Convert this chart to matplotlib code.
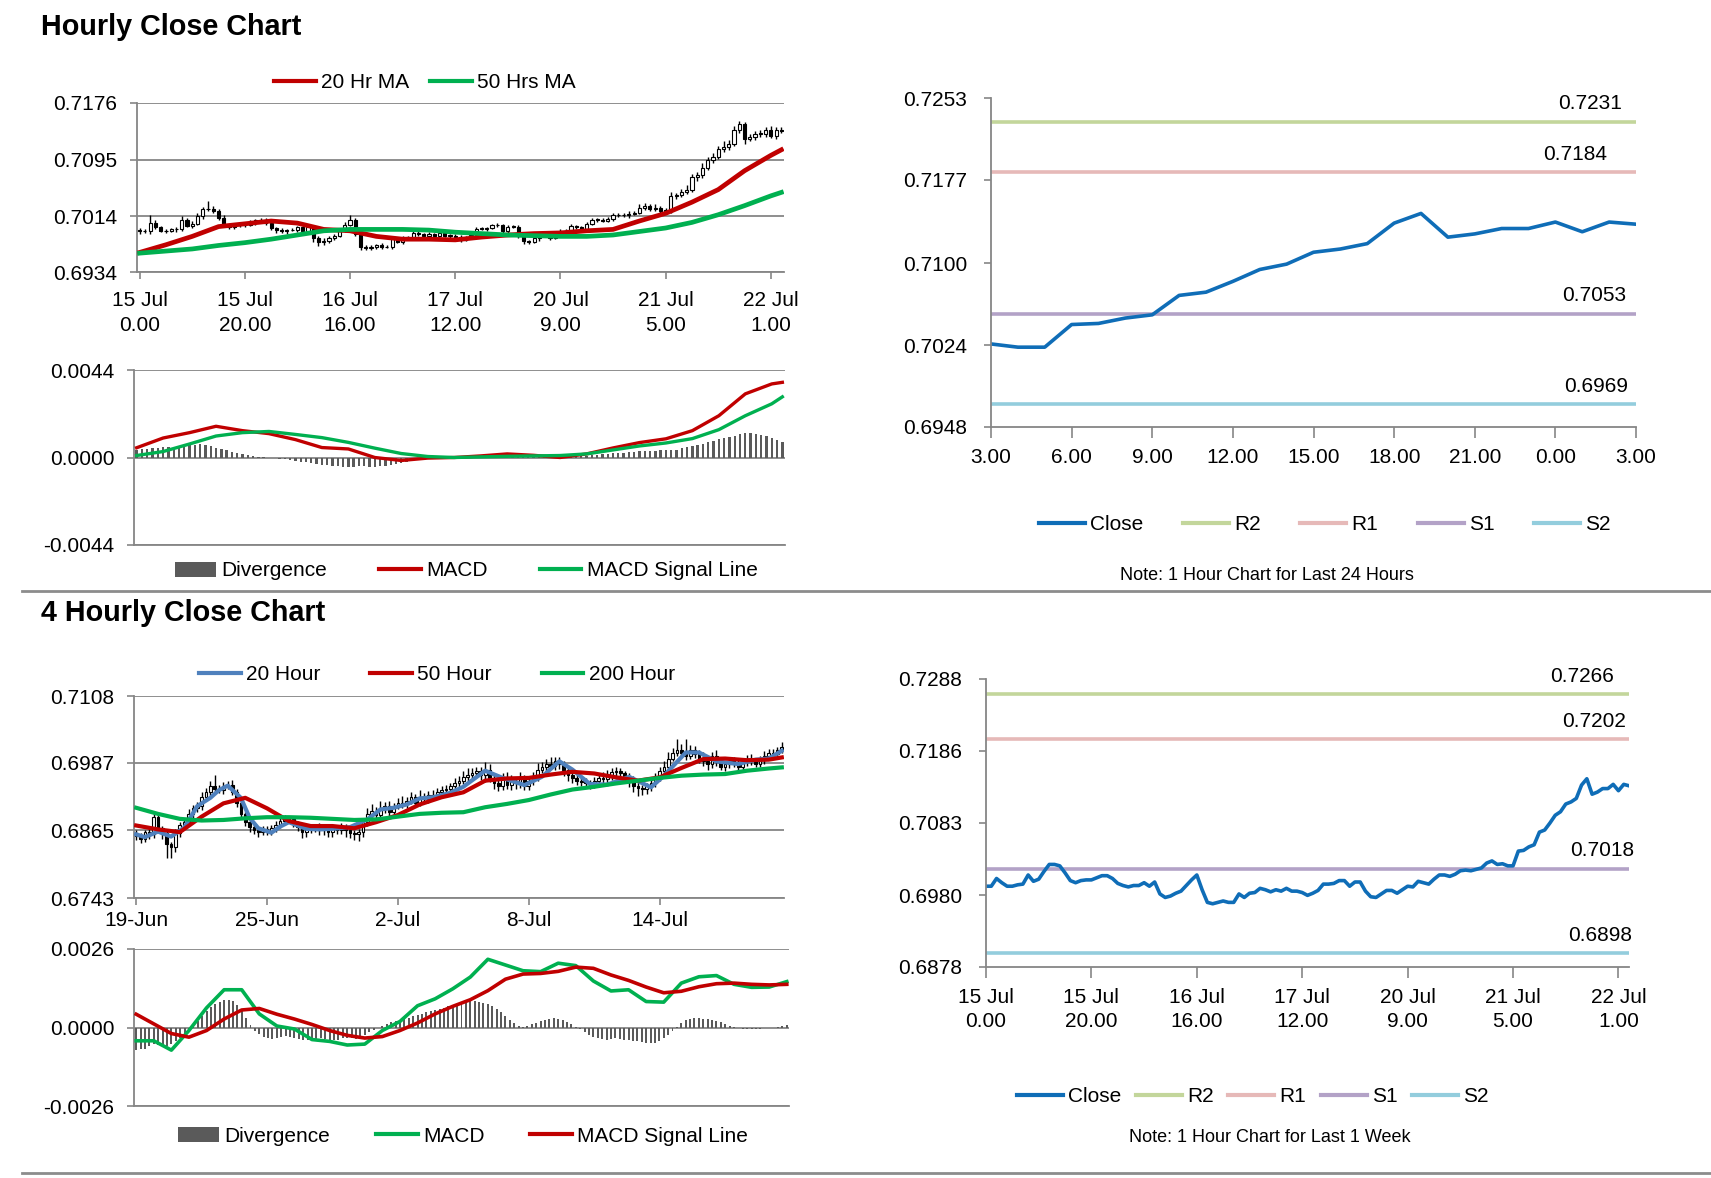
import matplotlib
matplotlib.use("Agg")
import matplotlib.pyplot as plt
from matplotlib.patches import Rectangle, Patch
from matplotlib.lines import Line2D

plt.rcParams['font.family'] = ['Liberation Sans Narrow', 'Liberation Sans', 'DejaVu Sans']

# ---------------- data: hourly (15 Jul 0.00 - 22 Jul 3.00) ----------------
hourly_ticks = [0, 20, 40, 60, 80, 100, 120]
hourly_tick_labels = ['15 Jul\n0.00', '15 Jul\n20.00', '16 Jul\n16.00', '17 Jul\n12.00',
                      '20 Jul\n9.00', '21 Jul\n5.00', '22 Jul\n1.00']
hourly_close = [
    0.6993, 0.6993, 0.7004, 0.6998, 0.6993, 0.6993, 0.6995, 0.6996, 0.7009, 0.7000,
    0.7003, 0.7014, 0.7024, 0.7024, 0.7022, 0.7012, 0.7001, 0.6998, 0.7001, 0.7002,
    0.7002, 0.7005, 0.7008, 0.7008, 0.7004, 0.6997, 0.6994, 0.6992, 0.6994, 0.6994,
    0.6998, 0.6993, 0.6999, 0.6982, 0.6977, 0.6979, 0.6983, 0.6986, 0.6994, 0.7002,
    0.7009, 0.6988, 0.6970, 0.6968, 0.6970, 0.6972, 0.6970, 0.6970, 0.6982, 0.6977,
    0.6983, 0.6984, 0.6990, 0.6988, 0.6985, 0.6988, 0.6986, 0.6990, 0.6986, 0.6986,
    0.6984, 0.6980, 0.6983, 0.6987, 0.6996, 0.6996, 0.6997, 0.7001, 0.7001, 0.6993,
    0.6999, 0.6999, 0.6986, 0.6978, 0.6977, 0.6982, 0.6987, 0.6987, 0.6983, 0.6988,
    0.6993, 0.6992, 0.7000, 0.6998, 0.6996, 0.7003, 0.7009, 0.7009, 0.7007, 0.7010,
    0.7015, 0.7016, 0.7015, 0.7017, 0.7019, 0.7026, 0.7029, 0.7024,
    0.7025, 0.7022, 0.7022, 0.7043, 0.7044, 0.7049, 0.7052, 0.7070, 0.7073, 0.7083,
    0.7094, 0.7099, 0.7110, 0.7113, 0.7118, 0.7137, 0.7146, 0.7124, 0.7127, 0.7132,
    0.7132, 0.7138, 0.7129, 0.7138, 0.7136]
hourly_first_open = 0.6994
# wick lengths in pips above / below the candle body
hourly_wick_up = [3, 2, 12, 4, 2, 3, 2, 3, 5, 3, 4, 5, 3, 12, 4, 2, 3, 2, 2, 3,
                  2, 3, 2, 4, 3, 2, 2, 3, 2, 3, 2, 3, 2, 2, 4, 3, 3, 2, 3, 4,
                  6, 2, 3, 2, 2, 2, 3, 2, 4, 2, 3, 2, 2, 3, 2, 3, 2, 2, 3, 2,
                  2, 3, 2, 3, 2, 3, 2, 2, 3, 2, 3, 2, 3, 2, 2, 3, 2, 2, 3, 2,
                  3, 2, 3, 2, 2, 3, 2, 3, 2, 3, 3, 2, 3, 4, 3, 5, 4, 3, 6, 4,
                  3, 5, 3, 4, 6, 5, 4, 7, 5, 6, 4, 8, 5, 6, 4, 3, 5, 4, 6, 4,
                  5, 4, 3]
hourly_wick_dn = [4, 3, 5, 3, 2, 3, 2, 4, 3, 2, 3, 2, 4, 2, 3, 3, 3, 2, 2, 3,
                  3, 2, 3, 2, 3, 3, 4, 2, 3, 2, 3, 2, 4, 5, 6, 5, 3, 3, 2, 3,
                  2, 3, 4, 3, 2, 3, 3, 2, 3, 2, 3, 2, 3, 2, 3, 2, 3, 2, 2, 3,
                  2, 3, 2, 2, 3, 2, 3, 2, 3, 3, 3, 2, 3, 4, 3, 2, 3, 2, 3, 2,
                  2, 3, 2, 2, 3, 2, 2, 3, 2, 2, 3, 2, 2, 3, 2, 2, 3, 2, 2, 4,
                  5, 3, 4, 3, 4, 3, 5, 4, 3, 4, 3, 4, 5, 3, 4, 6, 3, 4, 5, 4,
                  3, 4, 3]
hourly_line_idx = [0, 5, 10, 15, 20, 25, 30, 35, 40, 45, 50, 55, 60, 65, 70, 75, 80,
                   85, 90, 95, 100, 105, 110, 115, 120, 122]
hourly_ma20 = [0.6962, 0.6973, 0.6985, 0.6999, 0.7003, 0.7007, 0.7004, 0.6995, 0.6993,
               0.6985, 0.6981, 0.6981, 0.6980, 0.6984, 0.6987, 0.6989, 0.6990, 0.6993,
               0.6995, 0.7007, 0.7018, 0.7034, 0.7052, 0.7079, 0.7101, 0.7109]
hourly_ma50 = [0.6961, 0.6964, 0.6967, 0.6972, 0.6976, 0.6981, 0.6987, 0.6993, 0.6995,
               0.6995, 0.6995, 0.6994, 0.6991, 0.6989, 0.6987, 0.6986, 0.6985, 0.6985,
               0.6987, 0.6992, 0.6997, 0.7005, 0.7016, 0.7029, 0.7043, 0.7048]
hourly_macd = [0.00049, 0.00098, 0.00125, 0.00157, 0.00135, 0.00120, 0.00090, 0.00050,
               0.00043, 0.00000, -0.00015, -0.00003, 0.00000, 0.00008, 0.00018, 0.00011,
               0.00000, 0.00018, 0.00048, 0.00075, 0.00094, 0.00135, 0.00210, 0.00320,
               0.00370, 0.00378]
hourly_signal = [0.00010, 0.00030, 0.00068, 0.00108, 0.00125, 0.00131, 0.00116, 0.00100,
                 0.00076, 0.00047, 0.00020, 0.00005, 0.00000, 0.00003, 0.00006, 0.00008,
                 0.00010, 0.00018, 0.00038, 0.00058, 0.00073, 0.00095, 0.00140, 0.00210,
                 0.00270, 0.00305]
# divergence in units of 0.00001
hourly_div = [40, 42, 45, 47, 50, 52, 53, 55, 57, 60, 62, 65, 67,
              64, 58, 50, 45, 38, 30, 23, 18, 12, 8, 5, 2, 0,
              -3, -6, -10, -14, -18, -22, -25, -28, -32, -36, -40, -42, -45,
              -47, -47, -46, -45, -44, -46, -47, -45, -42, -38, -33, -28, -22,
              -16, -10, -5, -2, 0, 1, 1, 2, 3, 3, 4, 4, 5,
              6, 8, 10, 11, 12, 12, 11, 10, 8, 6, 5, 3, 2,
              1, 0, 1, 2, 4, 6, 8, 10, 12, 14, 17, 19, 21,
              23, 25, 27, 29, 31, 33, 34, 35, 36, 37, 36, 40, 47,
              53, 58, 63, 70, 78, 85, 93, 100, 103, 110, 117, 123, 121,
              118, 114, 108, 98, 90, 80]

# last 24 hours (21 Jul 3.00 - 22 Jul 3.00) are the tail of the hourly closes
last24_tick_labels = ['3.00', '6.00', '9.00', '12.00', '15.00', '18.00', '21.00', '0.00', '3.00']
level_names = ['R2', 'R1', 'S1', 'S2']
day_levels = [0.7231, 0.7184, 0.7053, 0.6969]
week_levels = [0.7266, 0.7202, 0.7018, 0.6898]

# ---------------- data: 4 hourly (19 Jun - 17 Jul) ----------------
fourh_ticks = [0, 30, 60, 90, 120]
fourh_tick_labels = ['19-Jun', '25-Jun', '2-Jul', '8-Jul', '14-Jul']
fourh_close = [
    0.6855, 0.6850, 0.6862, 0.6858, 0.6890, 0.6870, 0.6860, 0.6840, 0.6835, 0.6860,
    0.6875, 0.6880, 0.6895, 0.6905, 0.6910, 0.6925, 0.6935, 0.6945, 0.6940, 0.6938,
    0.6945, 0.6948, 0.6935, 0.6915, 0.6895, 0.6880,
    0.6872, 0.6866, 0.6863, 0.6868, 0.6862, 0.6870, 0.6875, 0.6882, 0.6888,
    0.6885, 0.6878, 0.6872, 0.6862, 0.6868, 0.6870, 0.6872, 0.6866, 0.6868,
    0.6862, 0.6870, 0.6866, 0.6872, 0.6865, 0.6860, 0.6858, 0.6862, 0.6880,
    0.6895, 0.6900, 0.6893, 0.6905, 0.6910, 0.6898, 0.6908, 0.6915, 0.6912,
    0.6918, 0.6925, 0.6915, 0.6925, 0.6922, 0.6930, 0.6928, 0.6935, 0.6938,
    0.6940, 0.6945, 0.6950, 0.6955, 0.6962, 0.6965, 0.6968, 0.6972, 0.6965,
    0.6975, 0.6960, 0.6950, 0.6945, 0.6962, 0.6948, 0.6955, 0.6950, 0.6958,
    0.6945, 0.6955, 0.6962, 0.6975, 0.6980, 0.6985, 0.6982, 0.6990, 0.6985,
    0.6975, 0.6965, 0.6960, 0.6955, 0.6952, 0.6950, 0.6948, 0.6955, 0.6960,
    0.6958, 0.6965, 0.6970, 0.6972, 0.6968, 0.6962, 0.6955, 0.6945, 0.6942,
    0.6940, 0.6945, 0.6950, 0.6960, 0.6972, 0.6980, 0.6995, 0.7005, 0.7010,
    0.7005, 0.7000, 0.7010, 0.7003, 0.6995, 0.6990, 0.6985, 0.7000, 0.6990,
    0.6980, 0.6985, 0.6990, 0.6985, 0.6980, 0.6988, 0.6995, 0.6990, 0.6985,
    0.6992, 0.7000, 0.7005, 0.7003, 0.7010, 0.7015]
fourh_first_open = 0.6860
fourh_wick_up = [5, 6, 4, 8, 6, 5, 4, 6, 5, 7, 6, 5, 8, 6, 7, 9, 6, 10, 20, 8,
                 7, 6, 8, 5, 6, 4, 5, 6, 4, 5, 6, 5, 7, 6, 5, 4, 6, 5, 4, 6,
                 5, 4, 6, 5, 7, 4, 5, 6, 4, 5, 6, 5, 8, 10, 12, 8, 14, 7, 9, 6,
                 8, 12, 7, 9, 6, 14, 8, 7, 9, 6, 8, 7, 6, 9, 8, 10, 12, 9, 8, 7,
                 14, 10, 8, 9, 7, 8, 10, 6, 12, 8, 7, 9, 12, 8, 10, 12, 8, 7, 6, 5,
                 7, 6, 5, 8, 6, 7, 8, 10, 9, 8, 7, 6, 5, 6, 8, 7, 5, 6, 7, 9,
                 8, 10, 12, 9, 20, 11, 25, 9, 8, 7, 12, 8, 7, 10, 8, 6, 7, 8, 9, 6,
                 7, 8, 6, 7, 9, 8, 7, 6, 10]
fourh_wick_dn = [8, 7, 6, 9, 7, 8, 10, 24, 20, 8, 7, 6, 5, 7, 6, 8, 6, 7, 5, 6,
                 7, 5, 6, 8, 9, 7, 10, 8, 9, 7, 6, 5, 7, 6, 5, 6, 7, 8, 10, 9,
                 8, 7, 9, 10, 8, 9, 7, 8, 12, 9, 10, 12, 8, 7, 6, 7, 6, 8, 7, 6,
                 5, 7, 6, 5, 7, 6, 8, 7, 6, 5, 7, 6, 5, 6, 7, 6, 8, 7, 6, 9,
                 12, 8, 10, 9, 7, 8, 9, 10, 8, 7, 6, 7, 8, 6, 7, 6, 8, 9, 12, 10,
                 9, 8, 7, 9, 8, 7, 6, 8, 7, 9, 8, 10, 9, 12, 10, 14, 10, 9, 8, 7,
                 6, 7, 6, 5, 6, 7, 8, 6, 7, 8, 9, 10, 7, 8, 6, 7, 8, 6, 7, 8,
                 6, 7, 6, 5, 6, 7, 5, 6, 5]
fourh_ma20_idx = [0, 2, 5, 8, 11, 14, 17, 19, 21, 24, 26, 28, 31, 33, 35, 39, 42, 45, 49,
                  53, 56, 59, 62, 65, 68, 72, 75, 80, 84, 89, 93, 97, 100, 104, 108, 113,
                  118, 121, 126, 129, 133, 138, 142, 145, 148]
fourh_ma20 = [0.6858, 0.6853, 0.6863, 0.6854, 0.6870, 0.6909, 0.6924, 0.6938, 0.6946,
              0.6924, 0.6888, 0.6869, 0.6861, 0.6872, 0.6880, 0.6868, 0.6867, 0.6868,
              0.6871, 0.6885, 0.6903, 0.6906, 0.6912, 0.6923, 0.6925, 0.6933, 0.6944,
              0.6973, 0.6960, 0.6947, 0.6962, 0.6990, 0.6975, 0.6949, 0.6948, 0.6962,
              0.6943, 0.6964, 0.7006, 0.7006, 0.6990, 0.6985, 0.6993, 0.6995, 0.7009]
fourh_ma_idx = [0, 5, 10, 15, 20, 25, 30, 35, 40, 45, 50, 55, 60, 65, 70, 75, 80, 85, 90,
                95, 100, 105, 110, 115, 120, 125, 130, 135, 140, 145, 148]
fourh_ma50 = [0.6874, 0.6867, 0.6862, 0.6890, 0.6914, 0.6924, 0.6905, 0.6882, 0.6873,
              0.6873, 0.6869, 0.6880, 0.6893, 0.6912, 0.6925, 0.6934, 0.6955, 0.6959,
              0.6960, 0.6966, 0.6971, 0.6968, 0.6961, 0.6955, 0.6961, 0.6978, 0.6994,
              0.6995, 0.6992, 0.6993, 0.6997]
fourh_ma200 = [0.6906, 0.6895, 0.6886, 0.6883, 0.6884, 0.6887, 0.6889, 0.6889, 0.6888,
               0.6886, 0.6884, 0.6885, 0.6890, 0.6895, 0.6897, 0.6898, 0.6907, 0.6913,
               0.6920, 0.6930, 0.6939, 0.6944, 0.6950, 0.6955, 0.6960, 0.6964, 0.6966,
               0.6967, 0.6973, 0.6977, 0.6979]
fourh_macd_idx = list(range(0, 149, 4))
fourh_macd = [-0.00044, -0.00044, -0.00075, -0.00010, 0.00065, 0.00125, 0.00125, 0.00045,
              0.00005, -0.00005, -0.00040, -0.00046, -0.00058, -0.00055, -0.00010, 0.00020,
              0.00072, 0.00095, 0.00128, 0.00167, 0.00226, 0.00207, 0.00188, 0.00185,
              0.00213, 0.00205, 0.00154, 0.00121, 0.00125, 0.00086, 0.00084, 0.00147,
              0.00168, 0.00172, 0.00143, 0.00133, 0.00134, 0.00152]
fourh_signal = [0.00044, 0.00012, -0.00020, -0.00032, -0.00010, 0.00028, 0.00058, 0.00063,
                0.00044, 0.00028, 0.00010, -0.00010, -0.00026, -0.00035, -0.00030, -0.00010,
                0.00015, 0.00045, 0.00070, 0.00092, 0.00122, 0.00160, 0.00177, 0.00179,
                0.00186, 0.00200, 0.00196, 0.00174, 0.00156, 0.00134, 0.00115, 0.00120,
                0.00135, 0.00145, 0.00147, 0.00143, 0.00141, 0.00143]
fourh_div = [-75, -72, -70, -60, -56, -58, -62, -60, -55,
             -45, -35, -20, -8, 5, 20, 38, 55, 68,
             78, 86, 90, 91, 88, 75, 55, 30, 8,
             -10, -22, -30, -36, -38, -35, -30, -28, -32,
             -36, -38, -40, -42, -40, -38, -36, -38, -40,
             -42, -40, -36, -34, -36, -38, -32, -25, -15,
             -8, 0, 6, 12, 18, 22, 25, 28, 33,
             38, 42, 46, 50, 54, 58, 62, 66, 70,
             74, 78, 82, 86, 88, 88, 86, 82, 78,
             72, 62, 50, 38, 26, 15, 6, 2, 5,
             10, 15, 20, 25, 28, 30, 29, 25, 18,
             10, 3, -5, -15, -25, -32, -36, -38, -40,
             -38, -36, -38, -40, -42, -44, -46, -48, -50,
             -52, -50, -44, -36, -26, -12, 2, 15, 25,
             28, 30, 30, 29, 28, 26, 22, 18, 10,
             5, 2, -2, -4, -5, -6, -5, -4, -3,
             -2, -1, 2, 5, 8]

# ---------------- styling ----------------
PIP = 0.0001
RED = '#C00000'
GREEN = '#00B050'
BLUE = '#4F81BD'
CLOSE = '#0F6DB7'
LEVEL_COLORS = ['#C3D69B', '#E6B9B8', '#B3A2C7', '#93CDDD']
AXC = '#868686'
DIVC = '#5A5A5A'
W, H = 1711, 1178
FS = 15
LFS = 15
# horizontal nudges (points) of the level labels at the right end of the lines
day_label_dx = [-10, -21, -7, -6]
week_label_dx = [-11, -2, 4, 2]

fig = plt.figure(figsize=(W / 100, H / 100), dpi=100)


def px_axes(x0, y0, x1, y1):
    return fig.add_axes([x0 / W, 1 - y1 / H, (x1 - x0) / W, (y1 - y0) / H])


def style(ax, grid=True, xpad=8, ypad=9):
    for s in ['top', 'right']:
        ax.spines[s].set_visible(False)
    for s in ['left', 'bottom']:
        ax.spines[s].set_color(AXC)
        ax.spines[s].set_linewidth(1.3)
    ax.tick_params(colors=AXC, labelcolor='black', labelsize=FS, length=5, width=1.2)
    ax.tick_params(axis='x', pad=xpad)
    ax.tick_params(axis='y', pad=ypad)
    if grid:
        ax.yaxis.grid(True, color=AXC, lw=1.3)
        ax.set_axisbelow(True)


def set_yticks(ax, ticks):
    ax.set_ylim(ticks[0], ticks[-1])
    ax.set_yticks(ticks)
    ax.set_yticklabels(['%.4f' % t for t in ticks])


def set_date_ticks(ax, ticks, labels):
    ax.set_xticks(ticks)
    ax.set_xticklabels(labels, linespacing=1.35)


def draw_candles(ax, first_open, closes, up, dn, width):
    opens = [first_open] + closes[:-1]
    for i, (o, c) in enumerate(zip(opens, closes)):
        top, bot = max(o, c), min(o, c)
        ax.vlines(i, bot - dn[i] * PIP, top + up[i] * PIP, color='black', lw=1.0, zorder=2)
        ax.add_patch(Rectangle((i - width / 2, bot), width, max(top - bot, 0.4 * PIP),
                               facecolor='white' if c > o else 'black',
                               edgecolor='black', lw=0.8, zorder=3))


def legend(handles, labels, x, y, colsp, hl=2.0, fs=LFS):
    fig.legend(handles, labels, loc='center', bbox_to_anchor=(x, y), ncol=len(labels),
               frameon=False, fontsize=fs, handlelength=hl, handletextpad=0.25,
               columnspacing=colsp, borderpad=0, borderaxespad=0)


def line_handle(color, lw=3):
    return Line2D([], [], color=color, lw=lw)


def level_lines(ax, levels, dxs):
    for lvl, col, dx in zip(levels, LEVEL_COLORS, dxs):
        ax.axhline(lvl, color=col, lw=2.6)
        ax.annotate('%.4f' % lvl, xy=(1, lvl), xycoords=('axes fraction', 'data'),
                    xytext=(dx, 6), textcoords='offset points', ha='right', va='bottom',
                    fontsize=FS)


# ---------------- Hourly close chart ----------------
fig.text(41 / W, 1 - 27 / H, 'Hourly Close Chart', fontsize=20.7, fontweight='bold',
         family=['Liberation Sans', 'DejaVu Sans'], va='center', ha='left')

ax = px_axes(137, 103, 784, 272)
style(ax, xpad=9)
draw_candles(ax, hourly_first_open, hourly_close, hourly_wick_up, hourly_wick_dn, 0.6)
ax.plot(hourly_line_idx, hourly_ma20, color=RED, lw=3.4, zorder=4)
ax.plot(hourly_line_idx, hourly_ma50, color=GREEN, lw=3.4, zorder=4)
ax.set_xlim(-0.5, len(hourly_close) - 0.5)
set_date_ticks(ax, hourly_ticks, hourly_tick_labels)
set_yticks(ax, [0.6934, 0.7014, 0.7095, 0.7176])
legend([line_handle(RED), line_handle(GREEN)], ['20 Hr MA', '50 Hrs MA'],
       425 / W, 1 - 83 / H, 1.0)

ax = px_axes(134, 370, 785, 545)
style(ax)
ax.bar(range(len(hourly_div)), [v * 1e-5 for v in hourly_div], width=0.45, color=DIVC, zorder=2)
ax.plot(hourly_line_idx, hourly_macd, color=RED, lw=2.4, zorder=4)
ax.plot(hourly_line_idx, hourly_signal, color=GREEN, lw=2.4, zorder=4)
ax.set_xlim(-0.5, len(hourly_div) - 0.5)
ax.set_xticks([])
set_yticks(ax, [-0.0044, 0.0000, 0.0044])
legend([Patch(facecolor=DIVC), line_handle(RED), line_handle(GREEN)],
       ['Divergence', 'MACD', 'MACD Signal Line'], 466 / W, 1 - 571 / H, 2.5)

# last 24 hours
last24 = hourly_close[-25:]
ax = px_axes(991, 98, 1636, 427)
style(ax, grid=False, xpad=7, ypad=12)
ax.tick_params(axis='x', length=8)
level_lines(ax, day_levels, day_label_dx)
ax.plot(range(len(last24)), last24, color=CLOSE, lw=2.6)
ax.set_xlim(0, len(last24) - 1)
ax.set_xticks(range(0, len(last24), 3))
ax.set_xticklabels(last24_tick_labels)
set_yticks(ax, [0.6948, 0.7024, 0.7100, 0.7177, 0.7253])
legend([line_handle(CLOSE)] + [line_handle(c) for c in LEVEL_COLORS], ['Close'] + level_names,
       1325 / W, 1 - 525 / H, 1.9, hl=2.2)
fig.text(1267 / W, 1 - 575 / H, 'Note: 1 Hour Chart for Last 24 Hours', ha='center',
         va='center', fontsize=13)

fig.add_artist(Line2D([22 / W, 1], [1 - 591 / H] * 2, color='#8C8C8C', lw=2))

# ---------------- 4 Hourly close chart ----------------
fig.text(41 / W, 1 - 613 / H, '4 Hourly Close Chart', fontsize=20.7, fontweight='bold',
         family=['Liberation Sans', 'DejaVu Sans'], va='center', ha='left')

ax = px_axes(134, 696, 784, 898)
style(ax, xpad=4)
draw_candles(ax, fourh_first_open, fourh_close, fourh_wick_up, fourh_wick_dn, 0.62)
ax.plot(fourh_ma20_idx, fourh_ma20, color=BLUE, lw=3.0, zorder=4)
ax.plot(fourh_ma_idx, fourh_ma50, color=RED, lw=3.0, zorder=4)
ax.plot(fourh_ma_idx, fourh_ma200, color=GREEN, lw=3.0, zorder=4)
ax.set_xlim(-0.5, len(fourh_close) - 0.5)
ax.set_xticks(fourh_ticks)
ax.set_xticklabels(fourh_tick_labels)
set_yticks(ax, [0.6743, 0.6865, 0.6987, 0.7108])
legend([line_handle(BLUE), line_handle(RED), line_handle(GREEN)],
       ['20 Hour', '50 Hour', '200 Hour'], 437 / W, 1 - 675 / H, 2.4)

ax = px_axes(134, 949, 789, 1106)
style(ax)
ax.bar(range(len(fourh_div)), [v * 1e-5 for v in fourh_div], width=0.45, color=DIVC, zorder=2)
ax.plot(fourh_macd_idx, fourh_macd, color=GREEN, lw=2.6, zorder=4)
ax.plot(fourh_macd_idx, fourh_signal, color=RED, lw=2.6, zorder=4)
ax.set_xlim(-0.5, len(fourh_div) - 0.5)
ax.set_xticks([])
set_yticks(ax, [-0.0026, 0.0000, 0.0026])
legend([Patch(facecolor=DIVC), line_handle(GREEN), line_handle(RED)],
       ['Divergence', 'MACD', 'MACD Signal Line'], 463 / W, 1 - 1136 / H, 2.2)

# last week, hourly
ax = px_axes(986, 679, 1629, 967)
style(ax, grid=False, xpad=7, ypad=12)
ax.tick_params(axis='x', length=8)
level_lines(ax, week_levels, week_label_dx)
ax.plot(range(len(hourly_close)), hourly_close, color=CLOSE, lw=2.6)
ax.set_xlim(0, len(hourly_close) - 1)
set_date_ticks(ax, hourly_ticks, hourly_tick_labels)
set_yticks(ax, [0.6878, 0.6980, 0.7083, 0.7186, 0.7288])
legend([line_handle(CLOSE)] + [line_handle(c) for c in LEVEL_COLORS], ['Close'] + level_names,
       1253 / W, 1 - 1097 / H, 0.7, hl=2.2)
fig.text(1270 / W, 1 - 1137 / H, 'Note: 1 Hour Chart for Last 1 Week', ha='center',
         va='center', fontsize=13)

fig.add_artist(Line2D([22 / W, 1], [1 - 1173 / H] * 2, color='#8C8C8C', lw=2))

fig.savefig('out.png', dpi=100)
